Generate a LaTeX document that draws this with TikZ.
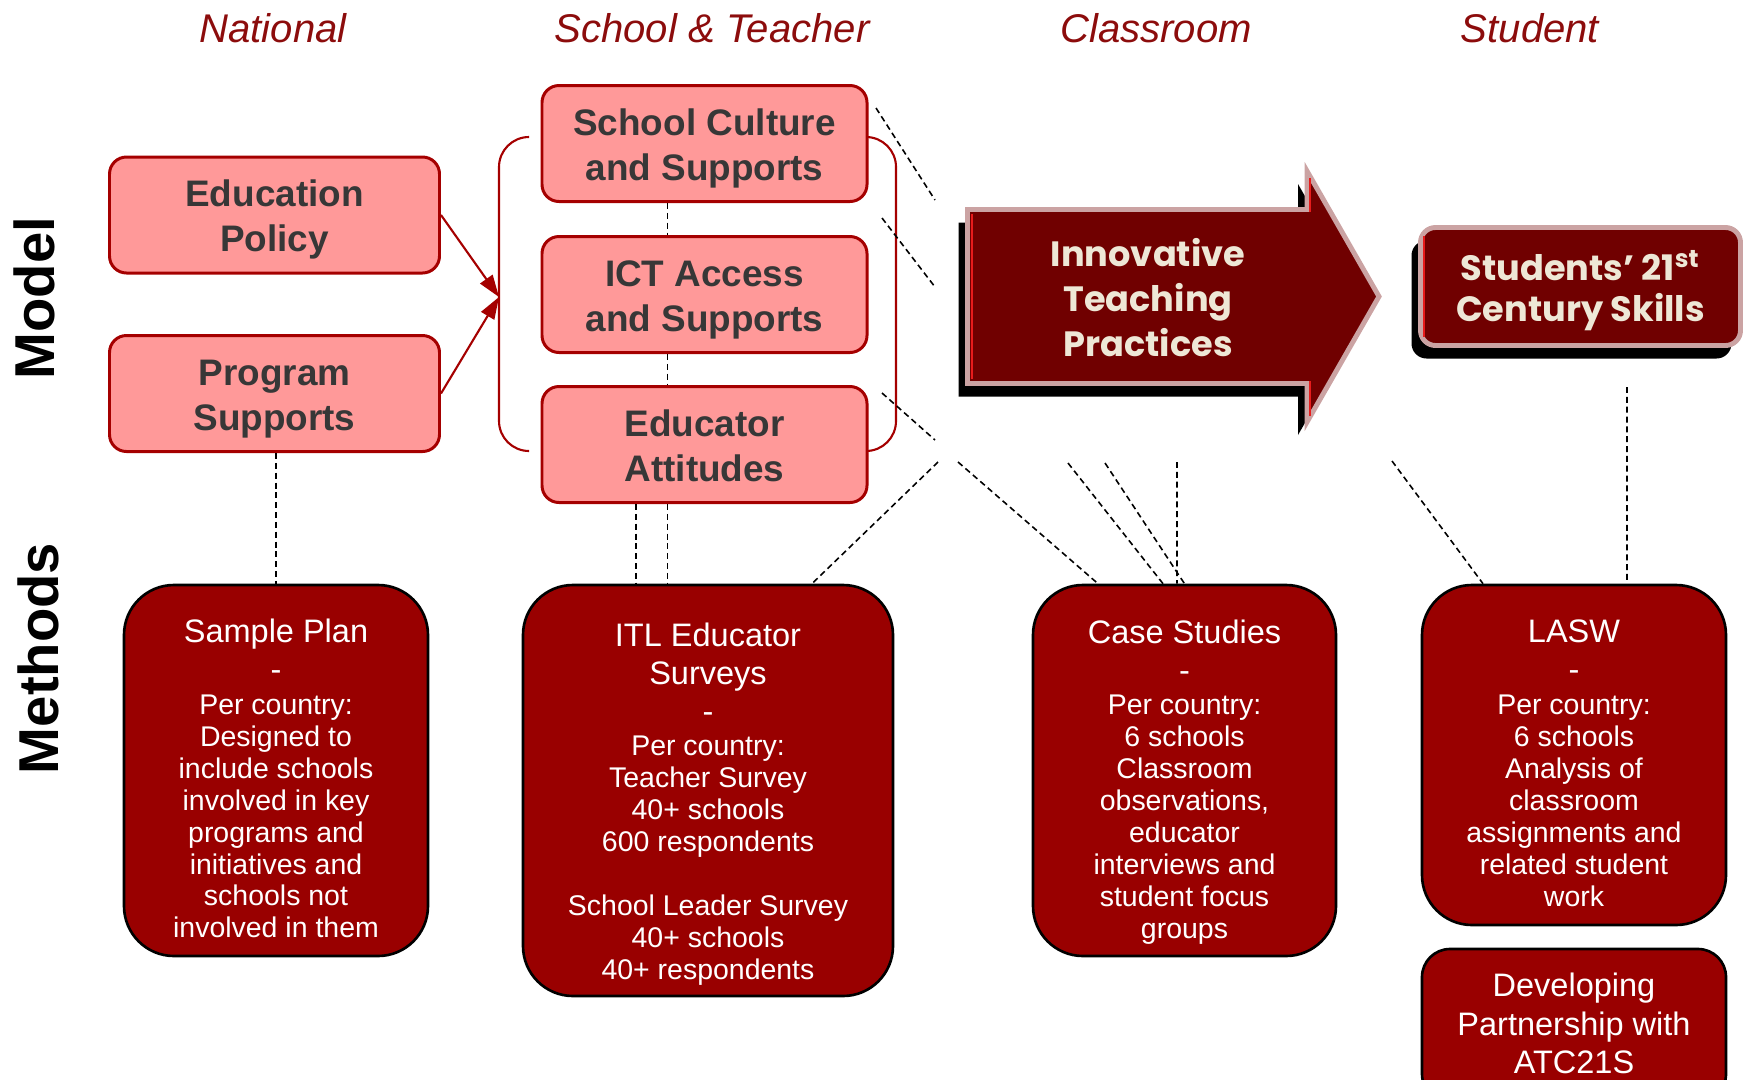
\documentclass[tikz,border=0pt]{standalone}
\usepackage{fontspec}
\setmainfont{Liberation Sans}
\newfontfamily\gothfont{Poppins}
\usetikzlibrary{arrows.meta,shadows}

\definecolor{headred}{RGB}{140,12,12}
\definecolor{modelfill}{RGB}{255,153,153}
\definecolor{modeledge}{RGB}{165,0,0}
\definecolor{modeltext}{RGB}{55,55,55}
\definecolor{methfill}{RGB}{153,0,0}
\definecolor{outfill}{RGB}{112,0,0}
\definecolor{outedge}{RGB}{203,163,163}
\definecolor{creamtext}{RGB}{238,231,214}
\definecolor{glintred}{RGB}{232,28,28}

\newcommand{\boxtitle}[1]{{\fontsize{9.25pt}{10.8pt}\selectfont #1}}
% invisible struts to sink the text a little in its box
\newcommand{\headroom}[1]{\rule{0pt}{#1}}
\newcommand{\footroom}[1]{\rule[-#1]{0pt}{#1}}

\tikzset{
  colhead/.style={font=\itshape\fontsize{11.4pt}{13pt}\selectfont, text=headred},
  rowhead/.style={rotate=90, font=\bfseries\fontsize{16pt}{18pt}\selectfont},
  modelbox/.style={draw=modeledge, line width=0.85pt, fill=modelfill, rounded corners=1.7mm,
    minimum width=3.3cm, minimum height=1.16cm, align=center, text=modeltext,
    font=\bfseries\fontsize{10.5pt}{12.7pt}\selectfont},
  methbox/.style={draw=black, line width=0.75pt, fill=methfill, rounded corners=5mm},
  methtext/.style={text=white, align=center, font=\fontsize{8.1pt}{9.1pt}\selectfont},
  dashline/.style={line width=0.45pt, dash pattern=on 1.7pt off 1.1pt},
  groupline/.style={modeledge, line width=0.6pt, rounded corners=3mm},
  feed/.style={modeledge, line width=0.6pt, -{Triangle[length=2.2mm,width=1.5mm]}},
  outcome/.style={fill=outfill, draw=outedge, line width=1.4pt,
    drop shadow={shadow xshift=-0.9mm, shadow yshift=-1.3mm, fill=black, opacity=1}},
  outtext/.style={text=creamtext, align=center, font=\gothfont\bfseries\fontsize{10pt}{12.8pt}\selectfont},
  glint/.style={glintred, line width=0.8pt}
}

\begin{document}
\begin{tikzpicture}
  \useasboundingbox (0,0) rectangle (17.46,-10.79);

  % column and row headings
  \node[colhead] (natl) at (2.73,-0.285) {National};
  \node[colhead] (schl) at (7.12,-0.285) {School \& Teacher};
  \node[colhead] (clsr) at (11.56,-0.285) {Classroom};
  \node[colhead] (stud) at (15.30,-0.285) {Student};
  \node[rowhead] (modeltag) at (0.345,-2.98) {Model};
  \node[rowhead] (methtag) at (0.385,-6.585) {Methods};

  % school level group
  \draw[groupline] (5.29,-1.37) -- (4.99,-1.37) -- (4.99,-4.51) -- (5.29,-4.51);
  \draw[groupline] (8.67,-1.37) -- (8.96,-1.37) -- (8.96,-4.51) -- (8.67,-4.51);
  \coordinate (brk) at (4.99,-2.97);

  % model boxes
  \node[modelbox] (edu) at (2.745,-2.15) {\headroom{10.3pt}Education\\Policy\footroom{2.2pt}};
  \node[modelbox] (prog) at (2.745,-3.935) {\headroom{10.3pt}Program\\Supports\footroom{2.2pt}};
  \node[modelbox, minimum width=3.25cm] (cult) at (7.045,-1.435)
    {\headroom{10.3pt}School Culture\\and Supports\footroom{2.2pt}};
  \node[modelbox, minimum width=3.25cm] (ict) at (7.045,-2.945)
    {\headroom{10.3pt}ICT Access\\and Supports\footroom{2.2pt}};
  \node[modelbox, minimum width=3.25cm] (att) at (7.045,-4.445)
    {\headroom{10.3pt}Educator\\Attitudes\footroom{2.2pt}};

  \draw[feed] (edu.east) -- (brk);
  \draw[feed] (prog.east) -- (brk);

  % methods boxes
  \node[methbox, minimum width=3.04cm, minimum height=3.71cm] (plan) at (2.76,-7.705) {};
  \node[methbox, minimum width=3.70cm, minimum height=4.11cm] (itl) at (7.08,-7.905) {};
  \node[methbox, minimum width=3.03cm, minimum height=3.71cm] (cases) at (11.845,-7.705) {};
  \node[methbox, minimum width=3.04cm, minimum height=3.40cm] (lasw) at (15.74,-7.55) {};
  \node[methbox, rounded corners=2.8mm, minimum width=3.04cm, minimum height=1.53cm] (atc) at (15.74,-10.255) {};

  \node[methtext] (plantxt) at (2.76,-7.787) {\boxtitle{Sample Plan}\\[1.7pt] \boxtitle{-}\\[0.4pt]
    Per country:\\ Designed to\\ include schools\\ involved in key\\ programs and\\
    initiatives and\\ schools not\\ involved in them};
  \node[methtext] (itltxt) at (7.08,-8.042) {\boxtitle{ITL Educator}\\[1.7pt] \boxtitle{Surveys}\\[1.7pt]
    \boxtitle{-}\\[0.4pt] Per country:\\ Teacher Survey\\ 40+ schools\\ 600 respondents\\[9.2pt]
    School Leader Survey\\ 40+ schools\\ 40+ respondents};
  \node[methtext] (casestxt) at (11.845,-7.822) {\boxtitle{Case Studies}\\[1.7pt] \boxtitle{-}\\[0.4pt]
    Per country:\\ 6 schools\\ Classroom\\ observations,\\ educator\\ interviews and\\
    student focus\\ groups};
  \node[methtext] (laswtxt) at (15.74,-7.632) {\boxtitle{LASW}\\[1.7pt] \boxtitle{-}\\[0.4pt]
    Per country:\\ 6 schools\\ Analysis of\\ classroom\\ assignments and\\ related student\\ work};
  \node[methtext, font=\fontsize{9.25pt}{10.9pt}\selectfont] (atctxt) at (15.74,-10.235)
    {Developing\\ Partnership with\\ ATC21S};

  % dashed links
  \coordinate (sv) at (6.675,0);
  \coordinate (sw) at (6.36,0);
  \draw[dashline] (prog.south -| plan.north) -- (plan.north);
  \draw[dashline] (cult.south -| sv) -- (ict.north -| sv);
  \draw[dashline] (ict.south -| sv) -- (att.north -| sv);
  \draw[dashline] (att.south -| sv) -- (itl.north -| sv);
  \draw[dashline] (att.south -| sw) -- (itl.north -| sw);

  \coordinate (a1) at (8.76,-1.08);   \coordinate (b1) at (9.35,-2.00);
  \coordinate (a2) at (8.82,-2.18);   \coordinate (b2) at (9.35,-2.87);
  \coordinate (a3) at (8.82,-3.93);   \coordinate (b3) at (9.35,-4.40);
  \draw[dashline] (a1) -- (b1);
  \draw[dashline] (a2) -- (b2);
  \draw[dashline] (a3) -- (b3);

  \coordinate (itpfoot) at (9.38,-4.62);
  \coordinate (c1) at (9.58,-4.62);
  \coordinate (c2) at (10.68,-4.63);
  \coordinate (c3) at (11.05,-4.63);
  \coordinate (c4) at (11.77,-4.62);
  \coordinate (l1) at (13.92,-4.61);
  \coordinate (l2) at (16.27,-3.87);
  \draw[dashline] (itpfoot) -- ([xshift=10.4mm]itl.north);
  \draw[dashline] (c1) -- ([xshift=-8.65mm]cases.north);
  \draw[dashline] (c2) -- ([xshift=-2.15mm]cases.north);
  \draw[dashline] (c3) -- (cases.north);
  \draw[dashline] (c4) -- ([xshift=-0.75mm]cases.north);
  \draw[dashline] (l1) -- ([xshift=-9.1mm]lasw.north);
  \draw[dashline] (l2) -- ([xshift=5.3mm]lasw.north);

  % outcomes
  \path[outcome] (9.675,-2.095) -- (13.07,-2.095) -- (13.07,-1.71) -- (13.79,-2.965)
    -- (13.07,-4.22) -- (13.07,-3.835) -- (9.675,-3.835) -- cycle;
  \draw[glint] (9.72,-2.14) -- (9.72,-3.79);
  \draw[glint] (13.10,-1.78) -- (13.10,-2.12);
  \draw[glint] (13.10,-3.81) -- (13.10,-4.16);
  \node[outtext] (itp) at (11.48,-2.98) {Innovative\\Teaching\\Practices};

  \node[outcome, outtext, rounded corners=1.5mm, minimum width=3.2cm, minimum height=1.18cm,
    font=\gothfont\bfseries\fontsize{10pt}{11.7pt}\selectfont] (skills) at (15.805,-2.865)
    {\headroom{10.9pt}Students’ 21\textsuperscript{st}\\Century Skills\footroom{2.6pt}};
  \draw[glint] (14.24,-2.36) -- (14.24,-3.37);
\end{tikzpicture}
\end{document}
